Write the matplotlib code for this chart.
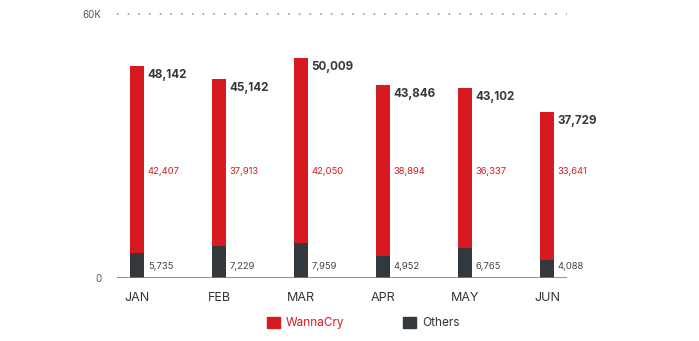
import matplotlib.pyplot as plt
from matplotlib.patches import Patch

plt.rcParams["font.family"] = ["Inter", "DejaVu Sans"]

# Monthly ransomware detections
months = ["JAN", "FEB", "MAR", "APR", "MAY", "JUN"]
wannacry = [42407, 37913, 42050, 38894, 36337, 33641]
others = [5735, 7229, 7959, 4952, 6765, 4088]
totals = [48142, 45142, 50009, 43846, 43102, 37729]

red = "#d71920"
dark = "#33383d"

fig = plt.figure(figsize=(6.99, 3.41), dpi=100)
ax = fig.add_axes([0.1674, 0.1848, 0.6438, 0.7742])

x = range(len(months))
ax.bar(x, others, width=0.16, color=dark)
ax.bar(x, wannacry, width=0.16, bottom=others, color=red)

for i in x:
    ax.annotate(f"{totals[i]:,}", (i + 0.08, totals[i]), xytext=(3, -2),
                textcoords="offset points", ha="left", va="top",
                fontsize=8.4, fontweight="bold", color="#33383d")
    ax.annotate(f"{wannacry[i]:,}", (i + 0.08, 24300), xytext=(3, 0),
                textcoords="offset points", ha="left", va="center",
                fontsize=6.8, color=red)
    ax.annotate(f"{others[i]:,}", (i + 0.08, 2600), xytext=(3, 0),
                textcoords="offset points", ha="left", va="center",
                fontsize=6.8, color="#444444")

ax.set_xlim(-0.244, 5.244)
ax.set_ylim(0, 60000)
ax.axhline(60000, color="#8a8a8a", lw=1.1, ls=(0, (1, 6)), clip_on=False)
ax.axhline(0, color="#7a7e82", lw=1.2)

ax.set_yticks([0, 60000])
ax.set_yticklabels(["0", "60K"])
ax.set_xticks(list(x))
ax.set_xticklabels(months)
ax.tick_params(axis="y", length=0, pad=11, labelsize=7, labelcolor="#555555")
ax.tick_params(axis="x", length=0, pad=10, labelsize=9, labelcolor="#333333")
for s in ax.spines.values():
    s.set_visible(False)

handles = [Patch(color=red), Patch(color=dark)]
leg = fig.legend(handles, ["WannaCry", "Others"], loc="center",
                 bbox_to_anchor=(0.52, 0.053), ncol=2, frameon=False,
                 handlelength=1.1, handleheight=1.1, handletextpad=0.5,
                 columnspacing=5, fontsize=8.5)
for t, c in zip(leg.get_texts(), [red, "#333333"]):
    t.set_color(c)

fig.savefig("out.png", dpi=100)
